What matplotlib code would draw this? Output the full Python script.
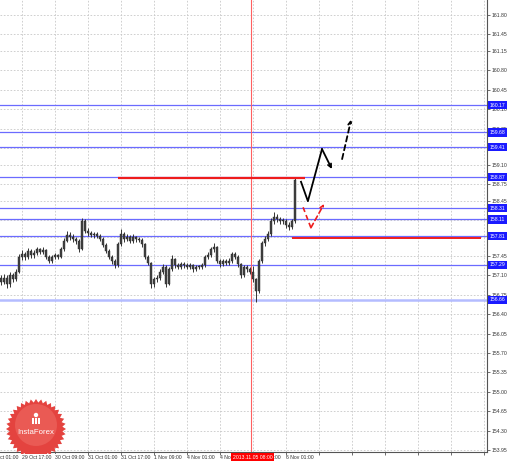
import matplotlib
matplotlib.use('Agg')
import matplotlib.pyplot as plt
import numpy as np
from matplotlib.patches import Polygon, Rectangle, Circle
from matplotlib.transforms import Affine2D, blended_transform_factory

plt.rcParams['font.family'] = ['Liberation Sans', 'DejaVu Sans']

# USDJPY-like H1 bars
closes = [156.99, 157.06, 156.94, 157.10, 157.03, 157.17, 157.43, 157.48, 157.43, 157.54,
          157.46, 157.50, 157.57, 157.52, 157.56, 157.43, 157.36, 157.43, 157.46, 157.43,
          157.57, 157.72, 157.83, 157.79, 157.76, 157.72, 157.57, 158.08, 157.90, 157.86,
          157.83, 157.85, 157.81, 157.76, 157.65, 157.54, 157.43, 157.36, 157.28, 157.66,
          157.85, 157.76, 157.79, 157.72, 157.79, 157.76, 157.74, 157.66, 157.43, 157.32,
          156.94, 157.03, 157.06, 157.17, 157.25, 156.95, 157.21, 157.39, 157.28, 157.25,
          157.30, 157.28, 157.25, 157.28, 157.21, 157.25, 157.25, 157.28, 157.43, 157.46,
          157.57, 157.61, 157.36, 157.30, 157.36, 157.32, 157.36, 157.48, 157.43, 157.30,
          157.10, 157.25, 157.21, 157.17, 157.03, 156.81, 157.36, 157.68, 157.76, 157.85,
          158.08, 158.16, 158.12, 158.08, 158.08, 158.01, 157.97, 158.08, 158.83]
highs = [157.10, 157.12, 157.10, 157.16, 157.14, 157.22, 157.48, 157.55, 157.53, 157.60,
         157.58, 157.55, 157.62, 157.60, 157.61, 157.58, 157.46, 157.47, 157.50, 157.49,
         157.61, 157.78, 157.90, 157.88, 157.84, 157.80, 157.75, 158.14, 158.11, 157.95,
         157.90, 157.89, 157.88, 157.84, 157.79, 157.68, 157.57, 157.47, 157.40, 157.70,
         157.93, 157.89, 157.84, 157.83, 157.84, 157.82, 157.80, 157.78, 157.69, 157.46,
         157.35, 157.08, 157.11, 157.21, 157.30, 157.28, 157.25, 157.46, 157.42, 157.32,
         157.34, 157.34, 157.32, 157.32, 157.31, 157.29, 157.29, 157.32, 157.47, 157.52,
         157.61, 157.68, 157.64, 157.40, 157.40, 157.40, 157.41, 157.53, 157.52, 157.46,
         157.33, 157.29, 157.29, 157.25, 157.27, 157.06, 157.40, 157.72, 157.82, 157.90,
         158.14, 158.24, 158.20, 158.16, 158.14, 158.12, 158.06, 158.12, 158.87]
lows = [156.93, 156.95, 156.88, 156.90, 156.98, 157.00, 157.14, 157.38, 157.37, 157.40,
        157.41, 157.42, 157.47, 157.48, 157.49, 157.40, 157.32, 157.33, 157.40, 157.39,
        157.41, 157.54, 157.70, 157.74, 157.71, 157.67, 157.52, 157.55, 157.86, 157.81,
        157.79, 157.78, 157.77, 157.72, 157.61, 157.50, 157.39, 157.31, 157.24, 157.26,
        157.63, 157.71, 157.72, 157.68, 157.69, 157.71, 157.70, 157.62, 157.39, 157.28,
        156.88, 156.90, 156.99, 157.02, 157.13, 156.90, 156.92, 157.18, 157.24, 157.21,
        157.22, 157.24, 157.21, 157.22, 157.17, 157.18, 157.21, 157.22, 157.25, 157.40,
        157.43, 157.53, 157.32, 157.26, 157.27, 157.28, 157.29, 157.33, 157.39, 157.26,
        157.05, 157.07, 157.17, 157.12, 156.98, 156.62, 156.78, 157.33, 157.63, 157.72,
        157.82, 158.03, 158.07, 158.03, 158.02, 157.96, 157.92, 157.94, 158.05]
first_open = 157.05
opens = [first_open] + closes[:-1]

# support / resistance levels shown with blue price boxes
levels = [160.17, 159.68, 159.41, 158.87, 158.31, 158.11, 157.81, 157.29, 156.66]
level_colors = ['#6b6bff'] * 8 + ['#b4bcff']
level_widths = [0.9] * 8 + [1.8]

y_ticks = [161.80, 161.45, 161.15, 160.80, 160.45, 160.10, 159.75, 159.40, 159.10, 158.75,
           158.45, 158.10, 157.80, 157.45, 157.10, 156.75, 156.40, 156.05, 155.70, 155.35,
           155.00, 154.65, 154.30, 153.95]

x_label_pos = [-4, 7, 18, 29, 40, 51, 62, 73, 84, 95]
x_labels = ['29 Oct 01:00', '29 Oct 17:00', '30 Oct 09:00', '31 Oct 01:00', '31 Oct 17:00',
            '1 Nov 09:00', '4 Nov 01:00', '4 Nov 17:00', '5 Nov 09:00', '6 Nov 01:00']
grid_pos = list(range(7, 162, 11))

current_bar = 83.33
current_label = '2013.11.05 08:00'

# forecast drawings: (bar, price)
red_top = (39, 101.3, 158.86)
red_bottom = (97, 160, 157.78)
black_path_x = [100, 102.3, 107, 110.3]
black_path_y = [158.79, 158.44, 159.38, 159.02]
black_dash_x = [113.7, 116.7]
black_dash_y = [159.20, 159.91]
red_path_x = [100.7, 103.3, 107.7]
red_path_y = [158.33, 157.96, 158.39]

W, H = 510, 463
FS = 3.7
fig = plt.figure(figsize=(W / 100, H / 100), dpi=100)
fig.patch.set_facecolor('white')
ax = fig.add_axes([0, 11 / H, 487 / W, 452 / H])
ax.set_xlim(-1 / 3, 162)
ax.set_ylim(153.913, 162.071)

ax.set_yticks(y_ticks)
ax.set_yticklabels(['%.2f' % v for v in y_ticks])
ax.yaxis.tick_right()
ax.tick_params(axis='y', labelsize=FS, colors='#333333', length=2, width=0.5, pad=1.5)
ax.set_xticks(grid_pos)
ax.set_xticklabels([])
ax.tick_params(axis='x', length=2, width=0.5, colors='#333333')
ax.grid(True, color='#c8c8c8', linestyle=(0, (2, 2)), linewidth=0.6)
ax.set_axisbelow(True)
for s in ['top', 'left']:
    ax.spines[s].set_visible(False)
for s in ['right', 'bottom']:
    ax.spines[s].set_color('#555555')
    ax.spines[s].set_linewidth(0.8)

for lv, c, lw in zip(levels, level_colors, level_widths):
    ax.axhline(lv, color=c, linewidth=lw, zorder=1.5)

ax.axvline(current_bar, color='#ff6060', linewidth=0.8, zorder=1.6)

# candles
idx = np.arange(len(closes))
o = np.array(opens)
c = np.array(closes)
ax.vlines(idx, lows, highs, color='#333333', linewidth=0.7, zorder=3)
bottoms = np.minimum(o, c)
heights = np.maximum(np.abs(c - o), 0.012)
ax.bar(idx, heights, bottom=bottoms, width=0.6, color='#444444', edgecolor='#222222',
       linewidth=0.3, zorder=3)

# forecast lines
ax.hlines(red_top[2], red_top[0], red_top[1], color='#ee1c1c', linewidth=1.6, zorder=4)
ax.hlines(red_bottom[2], red_bottom[0], red_bottom[1], color='#ee1c1c', linewidth=1.4, zorder=4)

ax.plot(black_path_x[:-1], black_path_y[:-1], color='black', linewidth=1.3, zorder=5)
ax.annotate('', xy=(black_path_x[-1], black_path_y[-1]), xytext=(black_path_x[-2], black_path_y[-2]),
            arrowprops=dict(arrowstyle='->', color='black', lw=1.3, shrinkA=0, shrinkB=0,
                            mutation_scale=6), zorder=5)
ax.annotate('', xy=(black_dash_x[-1], black_dash_y[-1]), xytext=(black_dash_x[0], black_dash_y[0]),
            arrowprops=dict(arrowstyle='->', color='black', lw=1.3, linestyle=(0, (3, 2)),
                            shrinkA=0, shrinkB=0, mutation_scale=6), zorder=5)
ax.plot(red_path_x[:-1], red_path_y[:-1], color='#ee1c1c', linewidth=1.2,
        linestyle=(0, (3, 2)), zorder=5)
ax.annotate('', xy=(red_path_x[-1], red_path_y[-1]), xytext=(red_path_x[-2], red_path_y[-2]),
            arrowprops=dict(arrowstyle='->', color='#ee1c1c', lw=1.2, linestyle=(0, (3, 2)),
                            shrinkA=0, shrinkB=0, mutation_scale=6), zorder=5)

# price boxes on the right scale
tr_y = blended_transform_factory(ax.transAxes, ax.transData)
for lv in levels:
    ax.text(1.006, lv, '%.2f' % lv, transform=tr_y, fontsize=FS, color='white',
            ha='left', va='center', clip_on=False, zorder=6,
            bbox=dict(boxstyle='square,pad=0.3', facecolor='#1a1aff', edgecolor='none'))

# bottom time labels
tr_x = blended_transform_factory(ax.transData, ax.transAxes)
for p, t in zip(x_label_pos, x_labels):
    ax.text(p, -0.012, t, transform=tr_x, fontsize=FS, color='#333333', ha='left',
            va='center', clip_on=False, zorder=7)
ax.text(77.2, -0.012, current_label, transform=tr_x, fontsize=FS, color='white', ha='left',
        va='center', clip_on=False, zorder=8,
        bbox=dict(boxstyle='square,pad=0.3', facecolor='#ff0000', edgecolor='none'))

# InstaForex badge (pixel coordinates)
px = Affine2D().scale(1 / W, -1 / H).translate(0, 1) + fig.transFigure
cx, cy = 36, 429
ang = np.linspace(0, 2 * np.pi, 73)[:-1]
rad = np.where(np.arange(72) % 2 == 0, 30, 26.5)
star = np.column_stack([cx + rad * np.cos(ang), cy + rad * np.sin(ang)])
ax.add_patch(Polygon(star, closed=True, facecolor='#e4433f', edgecolor='none',
                     transform=px, clip_on=False, zorder=6))
ax.add_patch(Circle((cx, cy - 4), 21, facecolor='#ea5a54', edgecolor='none',
                    transform=px, clip_on=False, zorder=6))
ax.add_patch(Rectangle((0, 453.5), 80, 6.5, facecolor='white', edgecolor='none',
                       transform=px, clip_on=False, zorder=6.5))
ax.add_patch(Circle((cx, cy - 14), 2.2, facecolor='white', edgecolor='none',
                    transform=px, clip_on=False, zorder=7))
for dx in (-3, 0, 3):
    ax.add_patch(Rectangle((cx + dx - 0.8, cy - 11), 1.6, 6, facecolor='white', edgecolor='none',
                           transform=px, clip_on=False, zorder=7))
ax.text(cx, cy + 4, 'InstaForex', transform=px, fontsize=5.6, color='white', ha='center',
        va='center', clip_on=False, zorder=7)

fig.savefig('out.png', dpi=100, facecolor='white')
